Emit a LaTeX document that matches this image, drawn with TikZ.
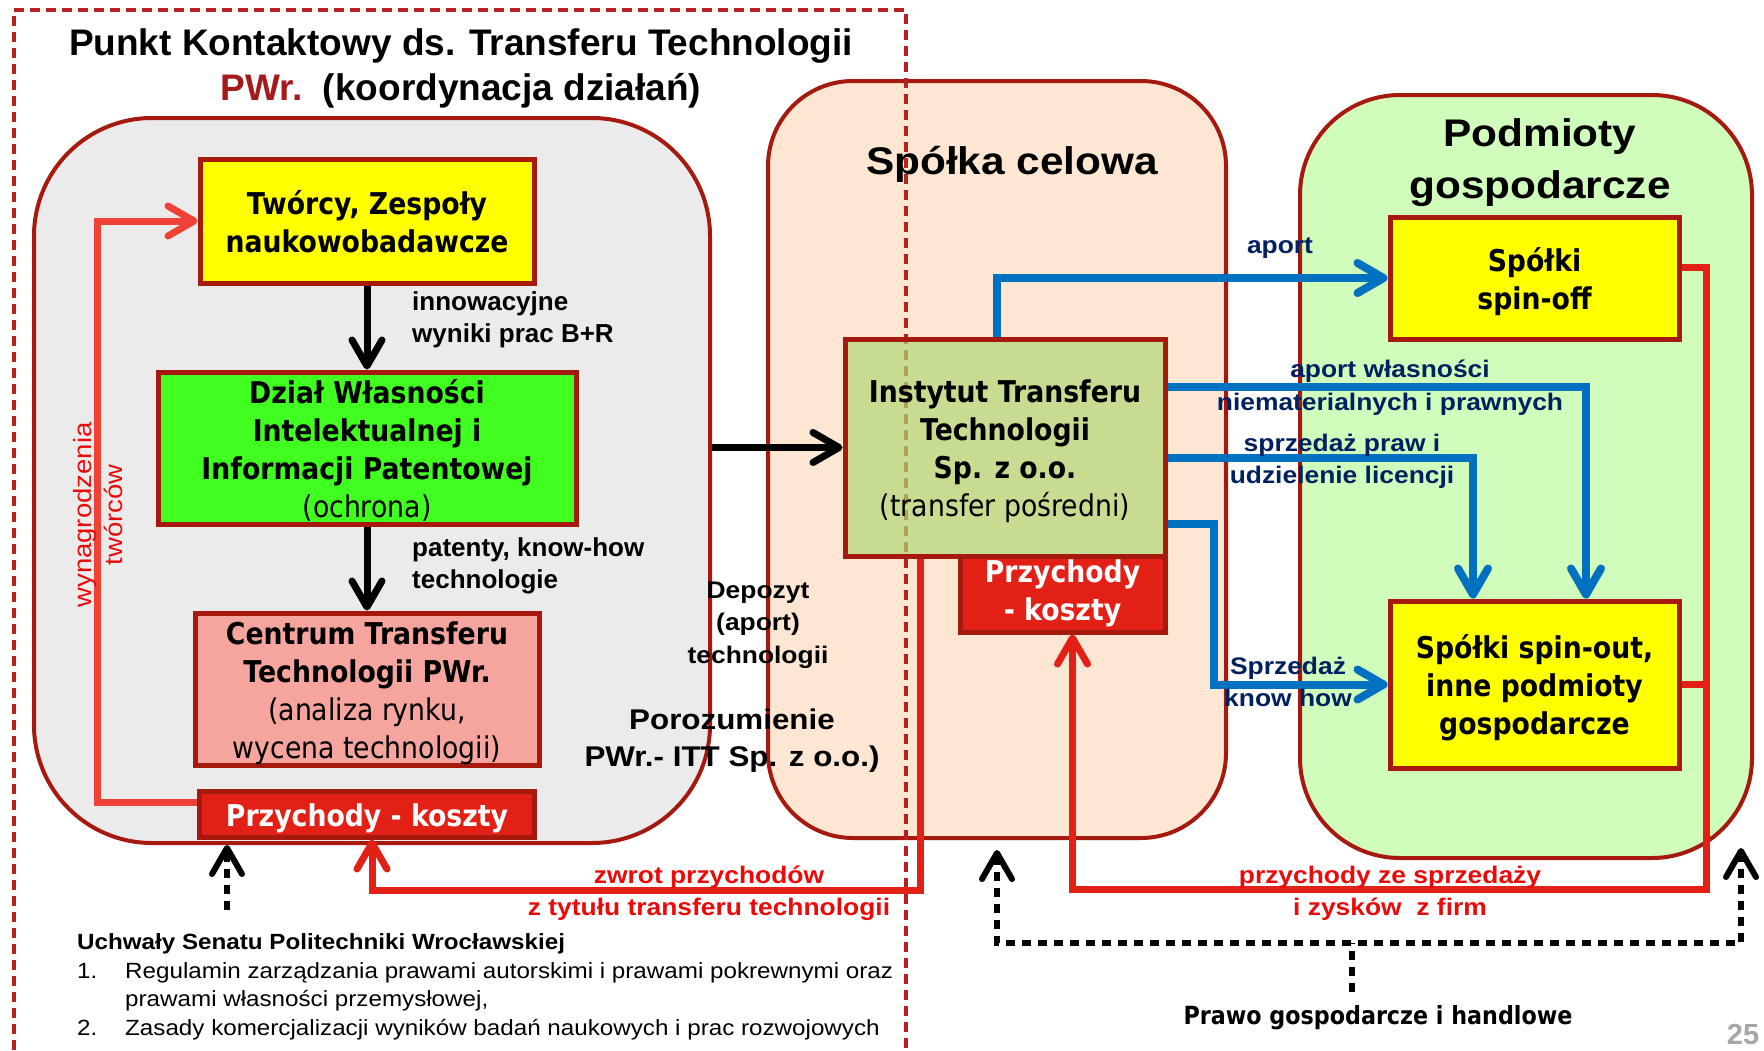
\documentclass[tikz,border=0pt]{standalone}
\usepackage{fontspec}
\setmainfont{Liberation Sans}
\newfontfamily\boxfont[FakeStretch=0.89]{DejaVu Sans}
\newfontfamily\widefont[FakeStretch=1.1]{Liberation Sans}
\usetikzlibrary{arrows.meta,positioning}

\newcommand{\rozm}[2]{\fontsize{#1}{#2}\selectfont}
\newcommand{\opis}[1]{\raisebox{-4.5pt}[\height][\depth]{\begin{tabular}{@{}c@{}}#1\end{tabular}}}

\definecolor{ramka}{RGB}{165,25,15}
\definecolor{kreska}{RGB}{180,35,30}
\definecolor{szary}{RGB}{235,235,235}
\definecolor{brzoskwinia}{RGB}{253,231,211}
\definecolor{zielen}{RGB}{208,253,187}
\definecolor{zolty}{RGB}{255,255,0}
\definecolor{jaskrawy}{RGB}{64,255,32}
\definecolor{rozowy}{RGB}{245,165,158}
\definecolor{oliwka}{RGB}{177,214,117}
\definecolor{czerwony}{RGB}{226,32,22}
\definecolor{jasnyczerw}{RGB}{239,65,54}
\definecolor{niebieski}{RGB}{0,112,192}
\definecolor{granat}{RGB}{0,32,96}
\definecolor{pwr}{RGB}{165,27,27}
\definecolor{napis}{RGB}{235,10,10}

\begin{document}
\begin{tikzpicture}[
    x=1pt, y=-1pt,
    >={Straight Barb[round,length=26pt,width=30pt]},
    box/.style={
      draw=ramka,
      line width=5pt,
      inner sep=0pt,
      text centered,
      font=\boxfont\bfseries\rozm{30}{38}
    },
    kasa/.style={box, fill=czerwony, text=white},
    panel/.style={draw=ramka, line width=4pt, inner sep=0pt},
    arr/.style={->, line width=7pt},
    blue arr/.style={->, niebieski, line width=8pt},
    red arr/.style={->, czerwony, line width=7pt},
    dots/.style={line width=6pt, dash pattern=on 9pt off 7pt},
    lbl/.style={inner sep=0pt, font=\widefont\bfseries\rozm{24}{32}},
    note/.style={inner sep=0pt, font=\bfseries\rozm{26}{32}}
    ]

    \useasboundingbox (0,0) rectangle (1764,1050);
    \fill[white] (0,0) rectangle (1764,1050);

    \node [panel, fill=szary, rounded corners=118pt, minimum width=676pt, minimum height=725pt] (pkt) at (372,480.5) {};
    \node [panel, fill=brzoskwinia, rounded corners=85pt, minimum width=458pt, minimum height=757pt] (spolka) at (997,459.5) {};
    \node [panel, fill=zielen, rounded corners=100pt, minimum width=452pt, minimum height=763pt] (podmioty) at (1526,476.5) {};

    \draw[kreska, line width=3.5pt, dash pattern=on 10pt off 6pt] (14,1050) |- (906,10) -- (906,1050);

    \node [inner sep=0pt, font=\bfseries\rozm{37}{45}] (tytul) at (461,68.5) {\begin{tabular}{@{}c@{}}Punkt Kontaktowy ds. Transferu Technologii\\ \textcolor{pwr}{PWr.}\ \ (koordynacja działań)\end{tabular}};
    \node [inner sep=0pt, anchor=base, font=\widefont\bfseries\rozm{38.5}{50}] (celowa) at (1012,174) {Spółka celowa};
    \node [inner sep=0pt, font=\widefont\bfseries\rozm{38.5}{52}] (podm) at (1540,161.6) {\begin{tabular}{@{}c@{}}Podmioty\\ gospodarcze\end{tabular}};

    \node [box, fill=zolty, minimum width=334pt, minimum height=124pt] (tworcy) at (367,221) {\opis{Twórcy, Zespoły\\ naukowobadawcze}};
    \node [box, fill=jaskrawy, minimum width=418pt, minimum height=151pt] (dzial) [below=84pt of tworcy] {\opis{Dział Własności\\ Intelektualnej i\\ Informacji Patentowej\\ \mdseries(ochrona)}};
    \node [box, fill=rozowy, minimum width=344pt, minimum height=151pt] (centrum) [below=84pt of dzial] {\opis{Centrum Transferu\\ Technologii PWr.\\ \mdseries(analiza rynku,\\ \mdseries wycena technologii)}};
    \node [kasa, minimum width=335pt, minimum height=46pt] (przL) [below=21pt of centrum] {\opis{Przychody - koszty}};

    \node [box, fill=oliwka, fill opacity=.7, text opacity=1, minimum width=320pt, minimum height=217pt] (itt) at (1005,447.5) {\opis{Instytut Transferu\\ Technologii\\ Sp. z o.o.\\ \mdseries(transfer pośredni)}};
    \node [kasa, minimum width=205pt, minimum height=67pt, anchor=north east, yshift=5pt] (przM) at (itt.south east) {\begin{tabular}{@{}c@{}}Przychody\\ - koszty\end{tabular}};

    \node [box, fill=zolty, minimum width=289pt, minimum height=122pt] (spinoff) at (1534.5,278) {\opis{Spółki\\ spin-off}};
    \node [box, fill=zolty, minimum width=289pt, minimum height=167pt] (spinout) [below=257pt of spinoff] {\opis{Spółki spin-out,\\ inne podmioty\\ gospodarcze}};

    \draw[arr] (tworcy.south) -- (dzial.north);
    \draw[arr] (dzial.south) -- (centrum.north);
    \draw[arr] (pkt.east |- itt.west) -- (itt.west);

    \draw[->, jasnyczerw, line width=7pt] ([yshift=12pt]przL.west) -- ++(-100,0) |- (tworcy.west);

    \draw[blue arr] ([xshift=-8pt]itt.north) |- (spinoff.west);
    \draw[blue arr] ([yshift=60.5pt]itt.east) -| ([xshift=51.5pt]spinout.north);
    \draw[blue arr] ([yshift=-10.5pt]itt.east) -| ([xshift=-61.5pt]spinout.north);
    \draw[blue arr] ([yshift=-76.5pt]itt.east) -- ++(46,0) |- (spinout.west);

    \draw[red arr] ([yshift=11pt]spinoff.east) -- ++(24.5,0) -- ++(0,622) -| ([xshift=10pt]przM.south);
    \draw[czerwony, line width=7pt] (spinout.east) -- ++(24.5,0);
    \draw[red arr] ([xshift=-85pt]itt.south) -- ++(0,332) -| ([xshift=5pt]przL.south);

    \node [inner sep=0pt, rotate=90, text=napis, font=\widefont\rozm{25}{31}] (wynagr) at (101,515) {\begin{tabular}{@{}c@{}}wynagrodzenia\\ twórców\end{tabular}};
    \node [note, anchor=west] (wyniki) at (412,319.6) {\begin{tabular}{@{}l@{}}innowacyjne\\ wyniki prac B+R\end{tabular}};
    \node [note, anchor=west] (patenty) at (412,566.3) {\begin{tabular}{@{}l@{}}patenty, know-how\\ technologie\end{tabular}};
    \node [lbl, font=\widefont\bfseries\rozm{24}{32.5}] (depozyt) at (758,624) {\begin{tabular}{@{}c@{}}Depozyt\\ (aport)\\ technologii\end{tabular}};
    \node [inner sep=0pt, font=\widefont\bfseries\rozm{28.5}{37}] (porozum) at (732,741) {\begin{tabular}{@{}c@{}}Porozumienie\\ PWr.- ITT Sp. z o.o.)\end{tabular}};

    \node [lbl, text=granat, anchor=base] (aport) at (1280,253) {aport};
    \node [lbl, text=granat, font=\widefont\bfseries\rozm{24}{33}] (wlasn) at (1390,386.9) {\begin{tabular}{@{}c@{}}aport własności\\ niematerialnych i prawnych\end{tabular}};
    \node [lbl, text=granat] (licencje) at (1342,461.3) {\begin{tabular}{@{}c@{}}sprzedaż praw i\\ udzielenie licencji\end{tabular}};
    \node [lbl, text=granat] (knowhow) at (1288,684) {\begin{tabular}{@{}c@{}}Sprzedaż\\ know how\end{tabular}};

    \node [lbl, text=napis] (zwrot) at (709,892.6) {\begin{tabular}{@{}c@{}}zwrot przychodów\\ z tytułu transferu technologii\end{tabular}};
    \node [lbl, text=napis] (zyski) at (1390,892.6) {\begin{tabular}{@{}c@{}}przychody ze sprzedaży\\ i zysków\ \ z firm\end{tabular}};

    \node [inner sep=0pt, anchor=west, font=\widefont\rozm{22}{28.5}] (uchwaly) at (77,987) {\begin{tabular}{@{}p{48pt}@{}l@{}}\multicolumn{2}{@{}l@{}}{\bfseries Uchwały Senatu Politechniki Wrocławskiej}\\ 1. & Regulamin zarządzania prawami autorskimi i prawami pokrewnymi oraz\\ & prawami własności przemysłowej,\\ 2. & Zasady komercjalizacji wyników badań naukowych i prac rozwojowych\end{tabular}};
    \node [inner sep=0pt, anchor=base, font=\boxfont\bfseries\rozm{25}{30}] (prawo) at (1378,1024) {Prawo gospodarcze i handlowe};
    \node [inner sep=0pt, anchor=base, text=gray!70, font=\bfseries\rozm{29}{36}] (nr) at (1743,1044) {25};

    \coordinate (senat) at (227,910);
    \coordinate (lewy) at (997,850);
    \coordinate (prawy) at (1741,848);
    \coordinate (styk) at (1352,943);

    \draw[dots, ->] (senat) -- (senat |- pkt.south);
    \draw[dots, <->] (lewy) -- (lewy |- styk) -- (prawy |- styk) -- (prawy);
    \draw[dots] ([xshift=-26pt,yshift=13pt]prawo.north) -- (styk);

  \end{tikzpicture}
\end{document}
